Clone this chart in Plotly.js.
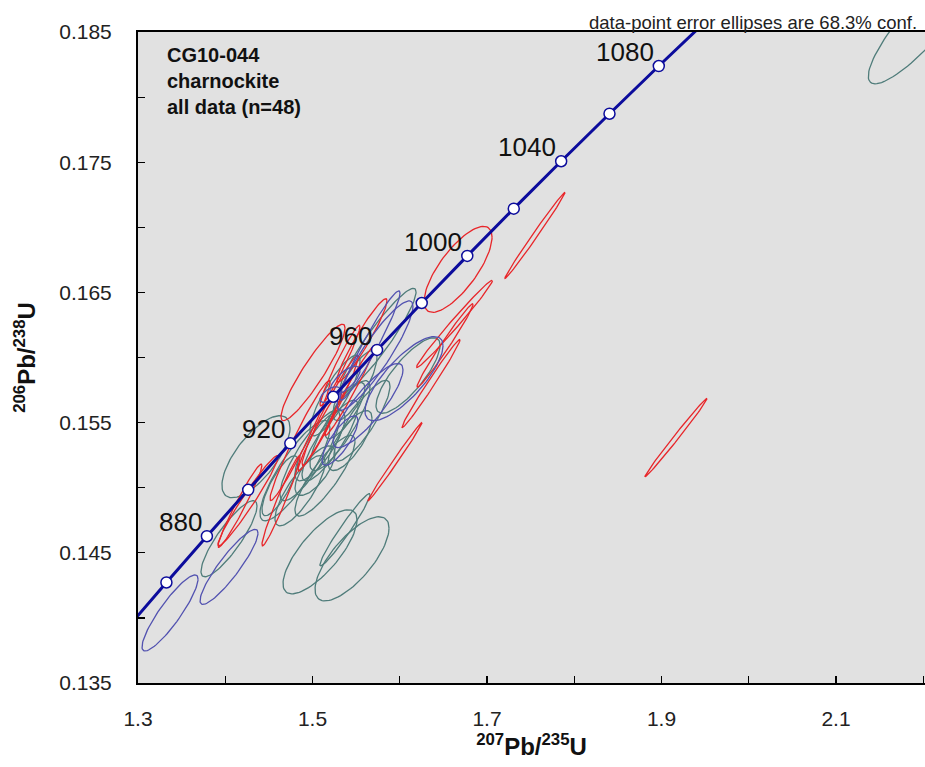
<!DOCTYPE html>
<html>
<head>
<meta charset="utf-8">
<script src="https://cdn.plot.ly/plotly-3.0.1.min.js"></script>
<style>html,body{margin:0;padding:0;background:#fff;}#chart{width:925px;height:767px;}</style>
</head>
<body>
<div id="chart"></div>
<script>
// Concordia reference points (age in Ma) and their ratios
const curveX = [1.28708, 1.33257, 1.37897, 1.42630, 1.47456, 1.52378, 1.57399, 1.62519, 1.67740, 1.73067, 1.78499, 1.84039, 1.89689, 1.95452];
const curveY = [0.139176, 0.142722, 0.146273, 0.149835, 0.153408, 0.156985, 0.160580, 0.164186, 0.167804, 0.171433, 0.175073, 0.178724, 0.182387, 0.186061];
const markerAge = [860, 880, 900, 920, 940, 960, 980, 1000, 1020, 1040, 1060, 1080];
const markerX = [1.33257, 1.37897, 1.42630, 1.47456, 1.52378, 1.57399, 1.62519, 1.67740, 1.73067, 1.78499, 1.84039, 1.89689];
const markerY = [0.142722, 0.146273, 0.149835, 0.153408, 0.156985, 0.160580, 0.164186, 0.167804, 0.171433, 0.175073, 0.178724, 0.182387];
const labelAge = [880, 920, 960, 1000, 1040, 1080];

// Data-point error ellipses: centre, half-extent in x and y (68.3% conf.), error correlation
const ellGroup = ['red','red','red','red','red','red','red','red','red','red','red','red','red','red','red','red','red',
  'blue','blue','blue','blue','blue','blue','blue','blue','blue',
  'teal','teal','teal','teal','teal','teal','teal','teal','teal','teal','teal','teal','teal','teal','teal','teal','teal','teal','teal','teal','teal','teal'];
const ellCx = [1.6668, 1.5006, 1.7550, 1.9166, 1.6627, 1.6519, 1.5946, 1.6358, 1.4261, 1.4639, 1.4857, 1.5201, 1.5430, 1.5315, 1.5086, 1.5567, 1.4169,
  1.3367, 1.4043, 1.6049, 1.5636, 1.5716, 1.5201, 1.5659, 1.5372, 1.5315,
  2.2020, 1.5086, 1.5453, 1.5372, 1.4043, 1.4352, 1.4799, 1.4971, 1.5086, 1.5201, 1.5315, 1.5372, 1.5029, 1.5258, 1.5487, 1.6095, 1.5751, 1.4857, 1.5143, 1.4627, 1.5430, 1.5567];
const ellCy = [0.16677, 0.15885, 0.16938, 0.15385, 0.16258, 0.16092, 0.15200, 0.15800, 0.14900, 0.14900, 0.15362, 0.15592, 0.15746, 0.15938, 0.15438, 0.16131, 0.14862,
  0.14038, 0.14392, 0.15838, 0.15631, 0.16015, 0.15715, 0.16092, 0.15823, 0.15362,
  0.18592, 0.14508, 0.14454, 0.14677, 0.14608, 0.15238, 0.15131, 0.15246, 0.15323, 0.15362, 0.15477, 0.15592, 0.15131, 0.15708, 0.15785, 0.15862, 0.16131, 0.14977, 0.15092, 0.15015, 0.15362, 0.15515];
const ellEx = [0.0390, 0.0367, 0.0344, 0.0355, 0.0435, 0.0321, 0.0309, 0.0332, 0.0344, 0.0218, 0.0344, 0.0321, 0.0287, 0.0229, 0.0252, 0.0287, 0.0252,
  0.0321, 0.0332, 0.0447, 0.0401, 0.0435, 0.0115, 0.0344, 0.0172, 0.0206,
  0.0650, 0.0424, 0.0424, 0.0287, 0.0321, 0.0390, 0.0401, 0.0344, 0.0287, 0.0321, 0.0344, 0.0229, 0.0229, 0.0287, 0.0252, 0.0367, 0.0436, 0.0287, 0.0344, 0.0206, 0.0252, 0.0321];
const ellEy = [0.00330, 0.00370, 0.00330, 0.00300, 0.00335, 0.00320, 0.00300, 0.00338, 0.00346, 0.00346, 0.00460, 0.00420, 0.00346, 0.00310, 0.00310, 0.00320, 0.00320,
  0.00292, 0.00288, 0.00323, 0.00323, 0.00420, 0.00060, 0.00420, 0.00110, 0.00190,
  0.00490, 0.00323, 0.00323, 0.00277, 0.00292, 0.00315, 0.00385, 0.00346, 0.00270, 0.00310, 0.00346, 0.00215, 0.00190, 0.00310, 0.00270, 0.00290, 0.00400, 0.00270, 0.00310, 0.00230, 0.00230, 0.00310];
const ellRho = [0.75, 0.92, 0.995, 0.995, 0.99, 0.985, 0.995, 0.99, 0.97, 0.97, 0.97, 0.97, 0.98, 0.97, 0.97, 0.95, 0.97,
  0.89, 0.90, 0.78, 0.85, 0.90, 0.60, 0.96, 0.70, 0.80,
  0.88, 0.76, 0.73, 0.97, 0.86, 0.70, 0.85, 0.85, 0.80, 0.85, 0.85, 0.80, 0.70, 0.85, 0.80, 0.80, 0.93, 0.80, 0.85, 0.80, 0.75, 0.85];

const groupColor = {red: '#e8262a', blue: '#5252b0', teal: '#4f7c7a'};
const FONT = 'Liberation Sans, Arial, sans-serif';

function ellipseTrace(group) {
  const xs = [], ys = [];
  const N = 90;
  for (let i = 0; i < ellCx.length; i++) {
    if (ellGroup[i] !== group) continue;
    const s = Math.sqrt(1 - ellRho[i] * ellRho[i]);
    for (let k = 0; k <= N; k++) {
      const t = 2 * Math.PI * k / N;
      xs.push(ellCx[i] + ellEx[i] * Math.cos(t));
      ys.push(ellCy[i] + ellEy[i] * (ellRho[i] * Math.cos(t) + s * Math.sin(t)));
    }
    xs.push(null); ys.push(null);
  }
  return {x: xs, y: ys, mode: 'lines', type: 'scatter', connectgaps: false,
    line: {color: groupColor[group], width: 1.3}, hoverinfo: 'skip', showlegend: false};
}

const traces = [
  ellipseTrace('teal'),
  ellipseTrace('red'),
  ellipseTrace('blue'),
  {x: curveX, y: curveY, mode: 'lines', type: 'scatter', line: {color: '#0c0c9c', width: 3, shape: 'spline'}, showlegend: false, hoverinfo: 'skip'},
  {x: markerX, y: markerY, mode: 'markers', type: 'scatter',
    marker: {symbol: 'circle', size: 11, color: '#ffffff', line: {color: '#0c0c9c', width: 1.5}}, showlegend: false}
];

const annotations = labelAge.map(a => {
  const i = markerAge.indexOf(a);
  return {x: markerX[i], y: markerY[i], xref: 'x', yref: 'y', text: String(a), showarrow: false,
    xanchor: 'right', yanchor: 'bottom', xshift: -3, yshift: -3,
    font: {family: FONT, size: 26, color: '#111'}};
});
annotations.push({xref: 'paper', yref: 'paper', x: 0.034, y: 0.985, xanchor: 'left', yanchor: 'top', align: 'left',
  text: '<b>CG10-044<br>charnockite<br>all data (n=48)</b>', showarrow: false,
  font: {family: FONT, size: 20, color: '#111'}});
annotations.push({xref: 'paper', yref: 'paper', x: 1, y: 1, xanchor: 'right', yanchor: 'bottom', xshift: -6, yshift: -3,
  text: 'data-point error ellipses are 68.3% conf.', showarrow: false,
  font: {family: FONT, size: 18.5, color: '#222'}});

const layout = {
  width: 925, height: 767,
  margin: {l: 138, r: 0, t: 32, b: 84},
  paper_bgcolor: '#ffffff', plot_bgcolor: '#e1e1e1',
  showlegend: false,
  font: {family: FONT, color: '#222'},
  xaxis: {range: [1.3, 2.202], tick0: 1.3, dtick: 0.2, ticks: 'inside', ticklen: 7, tickwidth: 1.2, tickcolor: '#000',
    minor: {dtick: 0.1, ticks: 'inside', ticklen: 7, tickwidth: 1.2, tickcolor: '#000'},
    showgrid: false, zeroline: false, showline: true, linecolor: '#000', linewidth: 2, mirror: true,
    tickformat: '.1f', tickfont: {family: FONT, size: 21, color: '#222'}, ticklabelstandoff: 16,
    title: {text: '<sup>207</sup>Pb/<sup>235</sup>U', font: {family: FONT, size: 24, color: '#111', weight: 'bold'}, standoff: 7},
    automargin: false},
  yaxis: {range: [0.135, 0.185], tick0: 0.135, dtick: 0.01, ticks: 'inside', ticklen: 7, tickwidth: 1.2, tickcolor: '#000',
    minor: {dtick: 0.005, ticks: 'inside', ticklen: 7, tickwidth: 1.2, tickcolor: '#000'},
    showgrid: false, zeroline: false, showline: true, linecolor: '#000', linewidth: 2,
    tickformat: '.3f', tickfont: {family: FONT, size: 21, color: '#222'}, ticklabelstandoff: 20,
    title: {text: '<sup>206</sup>Pb/<sup>238</sup>U', font: {family: FONT, size: 24, color: '#111', weight: 'bold'}, standoff: 17},
    automargin: false},
  annotations: annotations
};

Plotly.newPlot('chart', traces, layout, {displayModeBar: false, staticPlot: true});
</script>
</body>
</html>
